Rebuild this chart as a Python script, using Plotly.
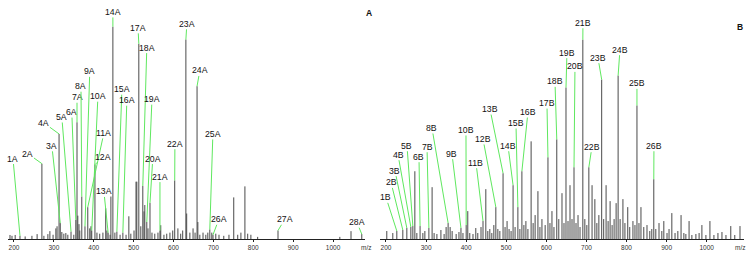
import plotly.graph_objects as go

# ---------------- Data: Panel A (m/z, relative intensity %) ----------------
A_MZ = [190, 195, 203, 215, 228, 245, 258, 270, 275, 285, 290, 298, 305, 308, 313, 316,
        320, 325, 330, 335, 343, 350, 355, 358, 360, 363, 365, 370, 378, 385, 390, 393,
        395, 403, 408, 415, 423, 430, 433, 436, 441, 443, 448, 453, 458, 466, 473, 481,
        488, 493, 501, 506, 508, 513, 518, 523, 526, 528, 533, 536, 541, 546, 553, 561,
        566, 568, 576, 583, 591, 598, 603, 611, 618, 623, 631, 633, 641, 649, 654, 659,
        661, 666, 674, 681, 686, 691, 696, 699, 706, 714, 726, 739, 751, 761, 769, 779,
        786, 794, 811, 862, 1017, 1045, 1072]
A_INT = [1.9, 1.5, 1.9, 1.5, 1.2, 1.5, 2.3, 35.5, 1.5, 2.3, 3.7, 2.0, 5.0, 6.0, 49.5, 7.5,
         3.3, 2.5, 2.8, 2.0, 3.5, 2.0, 9.0, 55.0, 11.0, 7.0, 4.0, 20.0, 6.0, 15.0, 5.0, 6.0,
         4.0, 35.0, 3.0, 2.5, 3.0, 14.5, 4.0, 3.0, 2.0, 20.0, 100.0, 3.0, 3.5, 2.0, 3.0, 2.0,
         10.7, 2.5, 4.0, 27.0, 27.0, 92.0, 6.0, 25.0, 13.0, 16.0, 8.0, 5.0, 17.0, 3.0, 2.5, 3.0,
         4.0, 6.5, 2.0, 2.5, 3.0, 4.0, 27.6, 5.0, 2.5, 4.0, 94.0, 12.0, 3.0, 5.0, 3.0, 72.0,
         8.0, 2.0, 3.0, 2.0, 3.0, 4.5, 3.0, 2.0, 2.5, 2.0, 1.5, 2.0, 19.6, 2.0, 3.0, 24.8,
         2.5, 2.0, 1.0, 4.0, 1.0, 3.7, 2.3]

A_LABELS = ["1A", "2A", "3A", "4A", "5A", "6A", "7A", "8A", "9A", "10A", "11A", "12A", "13A", "14A",
            "15A", "16A", "17A", "18A", "19A", "20A", "21A", "22A", "23A", "24A", "25A", "26A",
            "27A", "28A"]
A_LABEL_MZ = [215, 270, 316, 313, 343, 355, 358, 370, 378, 395, 385, 403, 436, 448,
              458, 473, 513, 523, 533, 541, 566, 603, 631, 659, 691, 699, 862, 1072]
A_LABEL_INT = [1.5, 35.5, 7.5, 49.5, 3.5, 9.0, 55.0, 20.0, 6.0, 4.0, 15.0, 35.0, 3.0, 100.0,
               3.5, 3.0, 92.0, 25.0, 8.0, 17.0, 4.0, 27.6, 94.0, 72.0, 4.5, 2.0, 4.0, 2.3]

# ---------------- Data: Panel B ----------------
B_MZ = [202, 217, 227, 242, 252, 262, 267, 272, 277, 285, 292, 297, 307, 315, 320, 327,
        337, 345, 350, 355, 360, 365, 375, 382, 387, 392, 400, 404, 409, 417, 424, 429,
        437, 442, 449, 454, 459, 464, 469, 474, 479, 484, 492, 497, 502, 507, 512, 517,
        522, 529, 534, 539, 544, 549, 554, 562, 567, 572, 579, 584, 589, 597, 604, 609,
        614, 619, 626, 631, 639, 644, 649, 654, 659, 664, 669, 674, 679, 684, 691, 696,
        701, 706, 714, 721, 726, 731, 738, 743, 749, 754, 759, 764, 769, 774, 779, 784,
        791, 796, 803, 808, 816, 821, 826, 831, 836, 843, 851, 858, 863, 868, 873, 881,
        888, 893, 901, 906, 913, 921, 928, 936, 943, 948, 956, 963, 973, 981, 988, 998,
        1008, 1018, 1028, 1038, 1048, 1060, 1070, 1083]
B_INT = [4.0, 3.0, 4.0, 4.5, 5.5, 6.0, 6.5, 34.0, 3.0, 6.5, 3.0, 4.0, 5.5, 26.0, 3.0, 2.5,
         4.5, 2.5, 6.0, 8.0, 6.0, 4.0, 2.5, 3.5, 5.5, 3.0, 7.0, 14.0, 3.0, 2.5, 5.5, 3.0,
         6.0, 9.0, 25.0, 4.0, 5.0, 3.0, 7.0, 16.0, 5.0, 4.0, 33.0, 6.0, 9.0, 5.0, 4.0, 27.0,
         6.0, 16.0, 5.0, 34.0, 7.0, 9.0, 5.0, 49.0, 8.0, 12.0, 24.0, 6.0, 10.0, 7.0, 41.0, 8.0,
         14.0, 6.0, 50.0, 10.0, 23.0, 8.0, 76.0, 9.0, 27.0, 10.0, 36.0, 8.0, 12.0, 6.0, 100.0, 10.0,
         7.0, 36.0, 27.0, 20.0, 8.0, 12.0, 80.0, 10.0, 27.0, 9.0, 19.0, 7.0, 10.0, 18.0, 82.0, 10.0,
         20.0, 8.0, 16.0, 6.0, 9.0, 7.0, 67.0, 8.0, 16.0, 6.0, 7.0, 4.0, 5.0, 30.0, 5.0, 8.0,
         4.0, 9.0, 3.0, 5.0, 13.0, 3.0, 4.0, 12.0, 3.0, 2.5, 9.0, 2.0, 2.5, 3.0, 7.0, 2.0,
         9.0, 2.0, 3.0, 3.5, 2.0, 6.5, 2.0, 6.5]

B_LABELS = ["1B", "2B", "3B", "4B", "5B", "6B", "7B", "8B", "9B", "10B", "11B", "12B", "13B",
            "14B", "15B", "16B", "17B", "18B", "19B", "20B", "21B", "22B", "23B", "24B", "25B", "26B"]
B_LABEL_MZ = [227, 242, 252, 262, 267, 285, 307, 355, 387, 400, 442, 474, 492,
              517, 529, 539, 604, 626, 649, 669, 691, 706, 738, 779, 826, 868]
B_LABEL_INT = [4.0, 4.5, 5.5, 6.0, 6.5, 6.5, 5.5, 8.0, 5.5, 7.0, 9.0, 16.0, 33.0,
               27.0, 16.0, 34.0, 41.0, 50.0, 76.0, 36.0, 100.0, 36.0, 80.0, 82.0, 67.0, 30.0]

TICKS = [200, 300, 400, 500, 600, 700, 800, 900, 1000]

# ---------------- Layout helpers (label text positions, in data units) ----------------
A_TEXT_POS = [(197.5, 37.9), (235, 40.2), (295, 43.9), (275, 54.7), (320, 57.5), (345, 59.8),
              (358, 66.8), (368, 72.0), (390, 79.0), (410.5, 67.3), (425.5, 50.0), (423, 38.8),
              (425.5, 22.4), (448, 107.0), (470.6, 70.6), (483, 65.4), (511, 99.5), (533, 90.2),
              (546, 65.9), (548, 37.9), (566, 29.4), (603.5, 44.9), (633.5, 101.4), (666, 79.4),
              (698.7, 49.5), (713.7, 9.3), (879, 9.3), (1059.6, 7.9)]
B_TEXT_POS = [(200, 20.9), (212.5, 28.4), (222.4, 34.3), (230, 42.3), (252.4, 46.8), (282.3, 41.3),
              (302.3, 46.3), (314.7, 55.7), (364.6, 42.8), (399.5, 54.7), (424.5, 38.3), (442, 50.2),
              (459.4, 65.2), (504.3, 46.8), (524.2, 58.2), (554.1, 63.7), (601.5, 68.2), (621.5, 79.1),
              (651.4, 93.5), (671.4, 86.6), (691.3, 108.5), (713.8, 46.3), (728.7, 91.0), (783.6, 95.0),
              (826, 78.1), (868.4, 46.8)]

STICK = "#4a4a4a"
GREEN = "#5fe85f"
LABEL_FONT = dict(family="Liberation Sans, Arial, sans-serif", size=8.7, color="#111")


def sticks(mz, inten):
    xs, ys = [], []
    for m, h in zip(mz, inten):
        xs += [m, m, None]
        ys += [0, h, None]
    return xs, ys


fig = go.Figure()
xa, ya = sticks(A_MZ, A_INT)
fig.add_trace(go.Scatter(x=xa, y=ya, mode="lines", line=dict(color=STICK, width=1),
                         xaxis="x", yaxis="y", hoverinfo="skip", showlegend=False))
xb, yb = sticks(B_MZ, B_INT)
fig.add_trace(go.Scatter(x=xb, y=yb, mode="lines", line=dict(color=STICK, width=1),
                         xaxis="x2", yaxis="y2", hoverinfo="skip", showlegend=False))

annotations = []
for lab, m, h, (tx, ty) in zip(A_LABELS, A_LABEL_MZ, A_LABEL_INT, A_TEXT_POS):
    annotations.append(dict(x=m, y=h, xref="x", yref="y", ax=tx, ay=ty, axref="x", ayref="y",
                            text=lab, showarrow=True, arrowhead=0, arrowwidth=1, arrowcolor=GREEN,
                            standoff=0, font=LABEL_FONT, borderpad=0))
for lab, m, h, (tx, ty) in zip(B_LABELS, B_LABEL_MZ, B_LABEL_INT, B_TEXT_POS):
    annotations.append(dict(x=m, y=h, xref="x2", yref="y2", ax=tx, ay=ty, axref="x2", ayref="y2",
                            text=lab, showarrow=True, arrowhead=0, arrowwidth=1, arrowcolor=GREEN,
                            standoff=0, font=LABEL_FONT, borderpad=0))

TICK_FONT = dict(family="Liberation Sans, Arial, sans-serif", size=6.5, color="#333")
PANEL_FONT = dict(family="Liberation Sans, Arial, sans-serif", size=8.5, color="#111")
annotations += [
    dict(x=0.4864, y=0, xref="paper", yref="paper", text="m/z", showarrow=False,
         xanchor="center", yanchor="top", yshift=-3, font=TICK_FONT),
    dict(x=0.9946, y=0, xref="paper", yref="paper", text="m/z", showarrow=False,
         xanchor="center", yanchor="top", yshift=-3, font=TICK_FONT),
    dict(x=0.4905, y=0.987, xref="paper", yref="paper", text="<b>A</b>", showarrow=False,
         xanchor="center", yanchor="middle", font=PANEL_FONT),
    dict(x=0.9946, y=0.926, xref="paper", yref="paper", text="<b>B</b>", showarrow=False,
         xanchor="center", yanchor="middle", font=PANEL_FONT),
]

xcommon = dict(showline=True, linecolor="#222", linewidth=1, ticks="outside", ticklen=2,
               tickcolor="#222", tickvals=TICKS, tickfont=TICK_FONT, showgrid=False,
               zeroline=False, fixedrange=True)
ycommon = dict(visible=False, showgrid=False, zeroline=False, fixedrange=True)

fig.update_layout(
    width=754, height=259,
    margin=dict(l=8, r=10, t=10, b=18),
    paper_bgcolor="white", plot_bgcolor="white",
    xaxis=dict(domain=[0, 0.485], range=[185, 1080], anchor="y", **xcommon),
    yaxis=dict(domain=[0, 1], range=[0, 107.9], anchor="x", **ycommon),
    xaxis2=dict(domain=[0.5054, 1], range=[185, 1093], anchor="y2", **xcommon),
    yaxis2=dict(domain=[0, 1], range=[0, 114.9], anchor="x2", **ycommon),
    annotations=annotations,
    showlegend=False,
)

fig.write_html("out.html", config={"displayModeBar": False},
               post_script="document.body.style.margin='0px';document.body.style.padding='0px';")
